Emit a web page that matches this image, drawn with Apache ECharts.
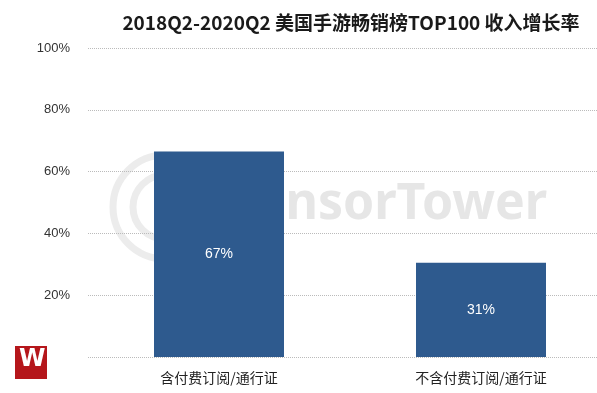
<!DOCTYPE html>
<html><head><meta charset="utf-8">
<script src="https://cdn.jsdelivr.net/npm/echarts@6/dist/echarts.min.js"></script>
<style>html,body{margin:0;padding:0;background:#fff}#c{width:597px;height:393px}</style>
</head><body><div id="c"></div>
<script>
const titleText = '2018Q2-2020Q2 美国手游畅销榜TOP100 收入增长率';
const categories = ['含付费订阅/通行证', '不含付费订阅/通行证'];
const growthValues = [66.5, 30.5];
const growthLabels = ['67%', '31%'];
const yTicks = [20, 40, 60, 80, 100];

const chart = echarts.init(document.getElementById('c'));
chart.setOption({
  animation: false,
  backgroundColor: '#fff',
  title: {
    text: titleText, left: 346, top: 8, textAlign: 'center',
    textStyle: { fontSize: 19, fontWeight: 'bold', color: '#1a1a1a', fontFamily: 'Noto Sans CJK SC' }
  },
  graphic: [
    { type: 'circle', z: -1, silent: true, shape: { cx: 165, cy: 207, r: 52 }, style: { fill: 'none', stroke: '#ececec', lineWidth: 7 } },
    { type: 'circle', z: -1, silent: true, shape: { cx: 165, cy: 207, r: 32 }, style: { fill: 'none', stroke: '#ececec', lineWidth: 7 } },
    { type: 'text', left: 228, top: 180, z: -1, silent: true,
      style: { text: 'SensorTower', fill: '#e6e6e6', font: 'bold 50px "Noto Sans"' } },
    { type: 'rect', left: 15, top: 346, z: 10, shape: { width: 32, height: 33 }, style: { fill: '#b5161b' } },
    { type: 'text', left: 19, top: 348, z: 11, style: { text: 'W', fill: '#fff', font: 'bold 24px "DejaVu Sans"' } }
  ],
  grid: { left: 88, width: 524, top: 48, bottom: 36, outerBoundsMode: 'none', containLabel: false },
  xAxis: {
    type: 'category', data: categories,
    axisLine: { show: false }, axisTick: { show: false },
    axisLabel: { fontSize: 14, color: '#222', margin: 14, fontFamily: 'Noto Sans CJK SC' }
  },
  yAxis: {
    type: 'value', min: 0, max: 100, interval: 20,
    axisLine: { show: false }, axisTick: { show: false },
    axisLabel: { formatter: v => yTicks.includes(v) ? v + '%' : '', fontSize: 13, color: '#333', margin: 18, fontFamily: 'Liberation Sans' },
    splitLine: { lineStyle: { type: 'dotted', color: '#bbb', width: 1 } }
  },
  series: [{
    type: 'bar', data: growthValues, barWidth: 130,
    itemStyle: { color: '#2e5a8e' },
    label: { show: true, position: 'inside', color: '#fff', fontSize: 14, fontFamily: 'Liberation Sans',
      formatter: p => growthLabels[p.dataIndex] }
  }]
});
</script></body></html>
